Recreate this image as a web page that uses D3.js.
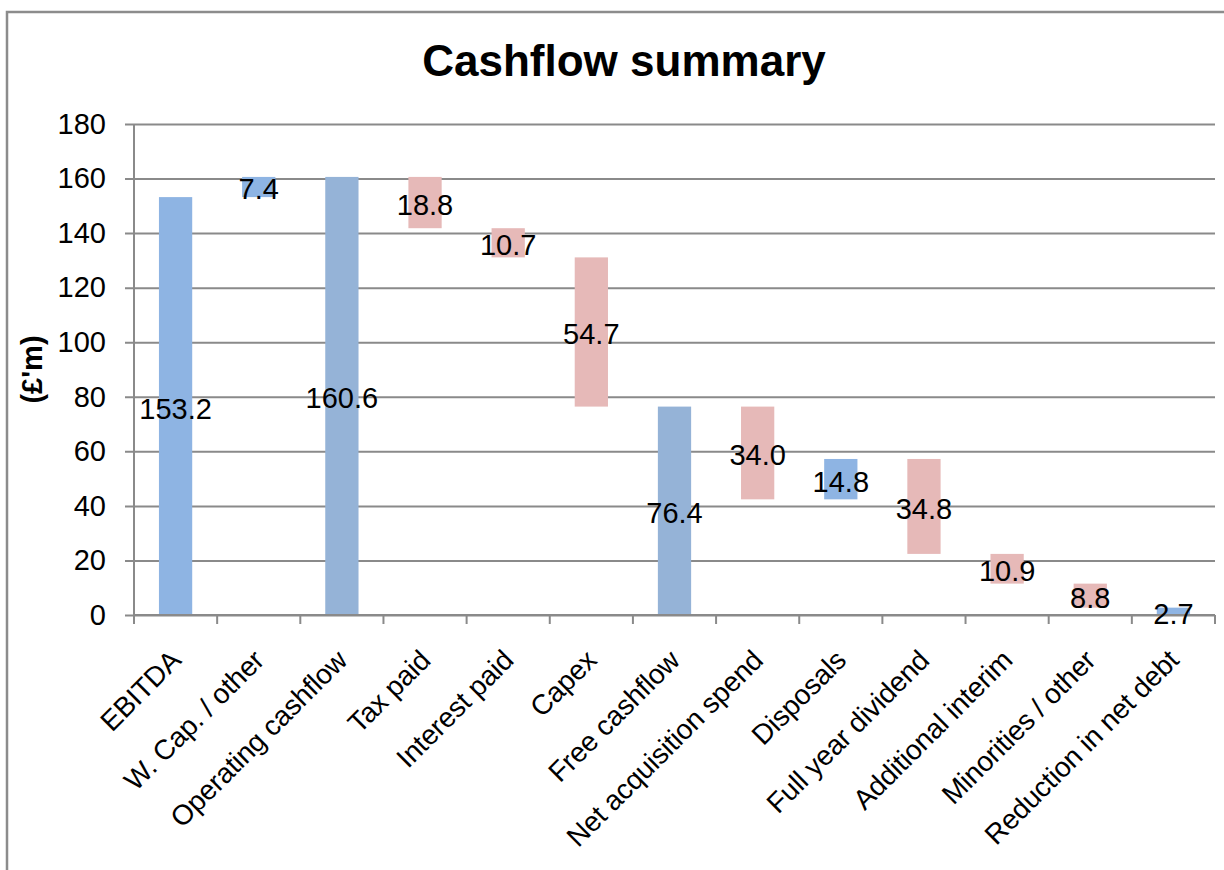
<!DOCTYPE html>
<meta charset="utf-8">
<html>
    <head>
        <script src="https://d3js.org/d3.v7.min.js"></script>
    </head>
    <style>
        body { margin: 0; background: #fff; }
        text { font-family: "Liberation Sans", Arial, sans-serif; }
    </style>
    <body>

        <div id="chart"></div>

        <script>

            // waterfall steps, in £m
            var categories = ["EBITDA", "W. Cap. / other", "Operating cashflow", "Tax paid", "Interest paid",
                "Capex", "Free cashflow", "Net acquisition spend", "Disposals", "Full year dividend",
                "Additional interim", "Minorities / other", "Reduction in net debt"];
            var amounts = [153.2, 7.4, 160.6, -18.8, -10.7, -54.7, 76.4, -34.0, 14.8, -34.8, -10.9, -8.8, 2.7];
            // "start"/"end" and "subtotal" bars stand on zero, the others float
            var kinds = ["start", "up", "subtotal", "down", "down", "down", "subtotal",
                "down", "up", "down", "down", "down", "end"];
            var yTicks = [0, 20, 40, 60, 80, 100, 120, 140, 160, 180];

            var width = 1224, height = 870;
            var margin = {top: 124, right: 9, bottom: 255, left: 134};

            var fill = {start: "#8EB4E3", up: "#8EB4E3", end: "#8EB4E3", subtotal: "#95B3D7", down: "#E6B9B8"};
            var gridColor = "#8a8a8a";

            // build floating bar extents
            var running = 0;
            var bars = categories.map(function(c, i) {
                var a = amounts[i], lo, hi;
                if (kinds[i] == "up" || kinds[i] == "down") {
                    lo = running; hi = running + a;
                    running = hi;
                } else {
                    lo = 0; hi = a;
                    running = a;
                }
                return {name: c, kind: kinds[i], value: a, y0: Math.min(lo, hi), y1: Math.max(lo, hi)};
            });

            var svg = d3.select("#chart")
                .append("svg")
                .attr("width", width)
                .attr("height", height);

            // outer chart frame (runs off the right and bottom edges)
            svg.append("rect")
                .attr("x", 7)
                .attr("y", 12)
                .attr("width", width)
                .attr("height", height)
                .attr("fill", "none")
                .attr("stroke", "#8c8c8c")
                .attr("stroke-width", 2.5);

            var x = d3.scaleBand()
                .domain(categories)
                .range([margin.left, width - margin.right])
                .paddingInner(0.6)
                .paddingOuter(0.3);

            var y = d3.scaleLinear()
                .domain([0, 180])
                .range([height - margin.bottom, margin.top]);

            // title
            svg.append("text")
                .attr("x", 624)
                .attr("y", 76)
                .attr("text-anchor", "middle")
                .attr("font-size", 44)
                .attr("font-weight", "bold")
                .text("Cashflow summary");

            // gridlines + y axis
            var yAxis = d3.axisLeft(y)
                .tickValues(yTicks)
                .tickSize(-(width - margin.right - margin.left))
                .tickSizeOuter(0)
                .tickPadding(28);

            var gy = svg.append("g")
                .attr("transform", "translate(" + margin.left + ",0)")
                .call(yAxis);
            gy.select(".domain").remove();
            gy.selectAll(".tick line")
                .attr("x1", -9)
                .attr("stroke", gridColor)
                .attr("stroke-width", 2);
            gy.selectAll(".tick text")
                .attr("font-size", 29)
                .attr("fill", "#000")
                .attr("font-family", "Liberation Sans, Arial, sans-serif");

            // y axis line
            svg.append("line")
                .attr("x1", margin.left).attr("x2", margin.left)
                .attr("y1", y(180)).attr("y2", y(0))
                .attr("stroke", gridColor)
                .attr("stroke-width", 2);

            svg.append("text")
                .attr("transform", "translate(42," + ((y(0) + y(180)) / 2) + ") rotate(-90)")
                .attr("text-anchor", "middle")
                .attr("font-size", 29)
                .attr("font-weight", "bold")
                .text("(£'m)");

            // bars
            svg.append("g")
                .selectAll("rect")
                .data(bars)
                .join("rect")
                .attr("x", d => x(d.name))
                .attr("width", x.bandwidth())
                .attr("y", d => y(d.y1))
                .attr("height", d => y(d.y0) - y(d.y1))
                .attr("fill", d => fill[d.kind]);

            // x axis line and category boundary ticks
            var step = x.step();
            var gx = svg.append("g");
            gx.append("line")
                .attr("x1", margin.left).attr("x2", width - margin.right)
                .attr("y1", y(0)).attr("y2", y(0))
                .attr("stroke", gridColor)
                .attr("stroke-width", 2);
            gx.selectAll("line.tk")
                .data(d3.range(categories.length + 1))
                .join("line")
                .attr("class", "tk")
                .attr("x1", i => margin.left + i * step)
                .attr("x2", i => margin.left + i * step)
                .attr("y1", y(0))
                .attr("y2", y(0) + 9)
                .attr("stroke", gridColor)
                .attr("stroke-width", 2);

            gx.selectAll("text")
                .data(categories)
                .join("text")
                .attr("transform", d => "translate(" + (x(d) + x.bandwidth() / 2 + 7) + "," + (y(0) + 47) + ") rotate(-45)")
                .attr("text-anchor", "end")
                .attr("font-size", 28)
                .attr("letter-spacing", -0.2)
                .text(d => d);

            // value labels, centred in each bar
            svg.append("g")
                .selectAll("text")
                .data(bars)
                .join("text")
                .attr("x", d => x(d.name) + x.bandwidth() / 2)
                .attr("y", d => y((d.y0 + d.y1) / 2))
                .attr("dy", "0.43em")
                .attr("text-anchor", "middle")
                .attr("font-size", 29)
                .text(d => Math.abs(d.value).toFixed(1));

        </script>
    </body>
</html>
